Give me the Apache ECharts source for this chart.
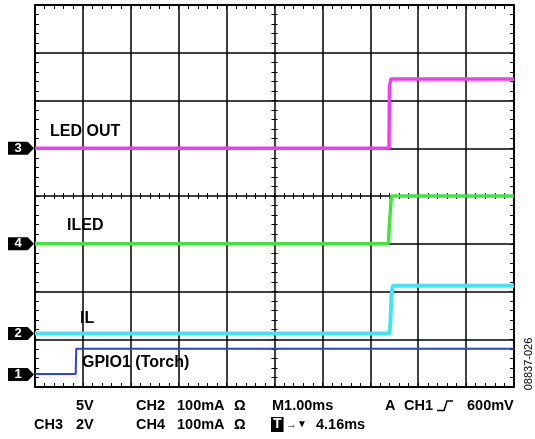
<!DOCTYPE html>
<html>
<head>
<meta charset="utf-8">
<script src="https://cdn.jsdelivr.net/npm/echarts@6/dist/echarts.min.js"></script>
<style>
html,body{margin:0;padding:0;background:#fff;}
#c{width:535px;height:439px;}
</style>
</head>
<body>
<div id="c"></div>
<script>
// Axis extents in scope divisions
const xDivs = [0, 10];
const yDivs = [0, 8];

// Traces: [time div, level div]
const ch3LedOut = [[0, 5.0], [7.39, 5.0], [7.40, 6.30], [7.43, 6.45], [10, 6.45]];
const ch4Iled   = [[0, 3.0], [7.38, 3.0], [7.39, 3.25], [7.42, 3.27], [7.44, 4.0], [10, 4.0]];
const ch2Il     = [[0, 1.12], [7.40, 1.12], [7.42, 1.35], [7.44, 1.90], [7.47, 2.12], [10, 2.12]];
const ch1Gpio   = [[0, 0.27], [0.85, 0.27], [0.86, 0.80], [10, 0.80]];

// Channel ground markers (level in divisions)
const markerLevels = { '3': 5.0, '4': 3.0, '2': 1.12, '1': 0.26 };

// Text
const traceLabels = ['LED OUT', 'ILED', 'IL', 'GPIO1 (Torch)'];
const bottomRow1 = ['5V', 'CH2', '100mA', 'Ω', 'M1.00ms', 'A', 'CH1', '600mV'];
const bottomRow2 = ['CH3', '2V', 'CH4', '100mA', 'Ω', 'T', '4.16ms'];
const figureId = '08837-026';

const FONT = '"Liberation Sans", Arial, sans-serif';
const chart = echarts.init(document.getElementById('c'), null, {renderer: 'canvas'});

const BLACK = '#000';
function lineAxis(max, position, withSplit) {
  return {
    type: 'value', min: 0, max: max, interval: 1, position: position,
    axisLine: {show: true, onZero: false, lineStyle: {color: BLACK, width: 2}},
    axisTick: {show: false},
    minorTick: {show: false},
    splitLine: {show: !!withSplit, lineStyle: {color: BLACK, width: 1.5}},
    axisLabel: {show: false}
  };
}
function tickAxis(max, position, offset, len) {
  return {
    type: 'value', min: 0, max: max, interval: 1, position: position, offset: offset,
    axisLine: {show: false, onZero: false},
    axisTick: {show: true, inside: false, length: len, lineStyle: {color: BLACK, width: 1}},
    minorTick: {show: true, splitNumber: 5, length: len, lineStyle: {color: BLACK, width: 1}},
    splitLine: {show: false},
    axisLabel: {show: false}
  };
}

const xAxes = [
  lineAxis(xDivs[1], 'bottom', true),
  lineAxis(xDivs[1], 'top', false),
  tickAxis(xDivs[1], 'bottom', -4, 4),
  tickAxis(xDivs[1], 'top', -4, 4),
  tickAxis(xDivs[1], 'bottom', -194, 6)
];
const yAxes = [
  lineAxis(yDivs[1], 'left', true),
  lineAxis(yDivs[1], 'right', false),
  tickAxis(yDivs[1], 'left', -4, 4),
  tickAxis(yDivs[1], 'right', -4, 4),
  tickAxis(yDivs[1], 'left', -242.5, 6)
];

function markerFor(num) {
  return {
    silent: true,
    symbol: 'path://M0 0 L19 0 L25 6.5 L19 13 L0 13 Z',
    symbolSize: [26, 13],
    symbolOffset: [-14, 0],
    itemStyle: {color: BLACK},
    label: {show: true, position: 'inside', formatter: num, color: '#fff',
      fontFamily: FONT, fontWeight: 'bold', fontSize: 13, offset: [-3, 0]},
    data: [{coord: [0, markerLevels[num]]}]
  };
}

function trace(name, data, color, width, num) {
  return {
    name: name, type: 'line', data: data, showSymbol: false, symbol: 'none',
    xAxisIndex: 0, yAxisIndex: 0, animation: false, clip: false,
    lineStyle: {color: color, width: width},
    markPoint: markerFor(num)
  };
}

function txt(t, x, y, size, extra) {
  return {
    type: 'text', silent: true, z: 100,
    style: Object.assign({text: t, x: x, y: y, fill: BLACK, verticalAlign: 'middle',
      font: 'bold ' + size + 'px ' + FONT}, extra || {})
  };
}

const r1 = 405.5, r2 = 424.5, fs = 14.5;
const graphics = [
  txt(traceLabels[0], 50, 131.5, 16),
  txt(traceLabels[1], 67, 225.5, 16),
  txt(traceLabels[2], 80, 319, 16),
  txt(traceLabels[3], 82, 363, 16),
  txt(bottomRow1[0], 76, r1, fs),
  txt(bottomRow1[1], 136, r1, fs),
  txt(bottomRow1[2], 177, r1, fs),
  txt(bottomRow1[3], 234, r1, fs),
  txt(bottomRow1[4], 272, r1, fs),
  txt(bottomRow1[5], 385, r1, fs),
  txt(bottomRow1[6], 404, r1, fs),
  txt(bottomRow1[7], 467, r1, fs),
  {type: 'polyline', silent: true, z: 100,
    shape: {points: [[437, 410.5], [444, 410.5], [447, 401], [453, 401]]},
    style: {stroke: BLACK, lineWidth: 1.5, fill: null}},
  txt(bottomRow2[0], 34, r2, fs),
  txt(bottomRow2[1], 76, r2, fs),
  txt(bottomRow2[2], 136, r2, fs),
  txt(bottomRow2[3], 177, r2, fs),
  txt(bottomRow2[4], 234, r2, fs),
  txt(bottomRow2[5], 271, r2, 14, {fill: '#fff', backgroundColor: BLACK, padding: [1, 2, 0, 2]}),
  txt('→', 286, r2, 11),
  txt('▼', 297, r2, 10),
  txt(bottomRow2[6], 316, r2, fs),
  {type: 'text', silent: true, z: 100, x: 529, y: 364, rotation: Math.PI / 2,
    style: {text: figureId, x: 0, y: 0, align: 'center', verticalAlign: 'middle',
      fill: BLACK, font: '11px ' + FONT}}
];

chart.setOption({
  animation: false,
  backgroundColor: '#fff',
  grid: {left: 35, top: 5, width: 479, height: 382, containLabel: false},
  xAxis: xAxes,
  yAxis: yAxes,
  series: [
    trace('LED OUT', ch3LedOut, '#f23cf0', 3.5, '3'),
    trace('ILED', ch4Iled, '#3ee63a', 3.5, '4'),
    trace('IL', ch2Il, '#3ee6f2', 4, '2'),
    trace('GPIO1', ch1Gpio, '#2f3fe0', 2, '1')
  ],
  graphic: graphics
});
</script>
</body>
</html>
